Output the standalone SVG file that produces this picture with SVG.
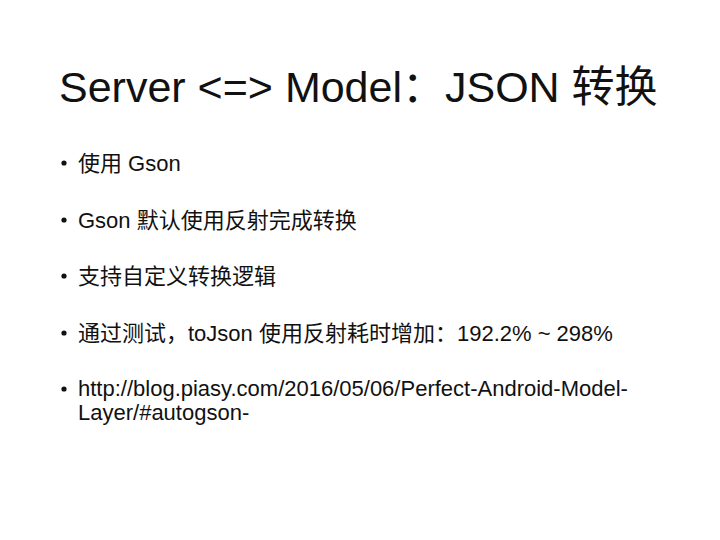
<svg xmlns="http://www.w3.org/2000/svg" width="720" height="540" viewBox="0 0 720 540">
<style>
text{font-family:"Liberation Sans","Noto Sans CJK SC",sans-serif;fill:#111}
.t{font-size:43px}
.b{font-size:22px}
</style>
<rect width="720" height="540" fill="#fff"/>
<text class="t" x="59" y="102">Server &lt;=&gt; Model：JSON 转换</text>
<g class="b">
<circle cx="64" cy="163" r="2.6" fill="#111"/>
<text class="b" x="78" y="171">使用 Gson</text>
<circle cx="64" cy="220" r="2.6" fill="#111"/>
<text class="b" x="78" y="228">Gson 默认使用反射完成转换</text>
<circle cx="64" cy="276" r="2.6" fill="#111"/>
<text class="b" x="78" y="284">支持自定义转换逻辑</text>
<circle cx="64" cy="333" r="2.6" fill="#111"/>
<text class="b" x="78" y="341">通过测试，toJson 使用反射耗时增加：192.2% ~ 298%</text>
<circle cx="64" cy="389" r="2.6" fill="#111"/>
<text class="b" x="78" y="396">http://blog.piasy.com/2016/05/06/Perfect-Android-Model-</text>
<text class="b" x="78" y="420">Layer/#autogson-</text>
</g>
</svg>
